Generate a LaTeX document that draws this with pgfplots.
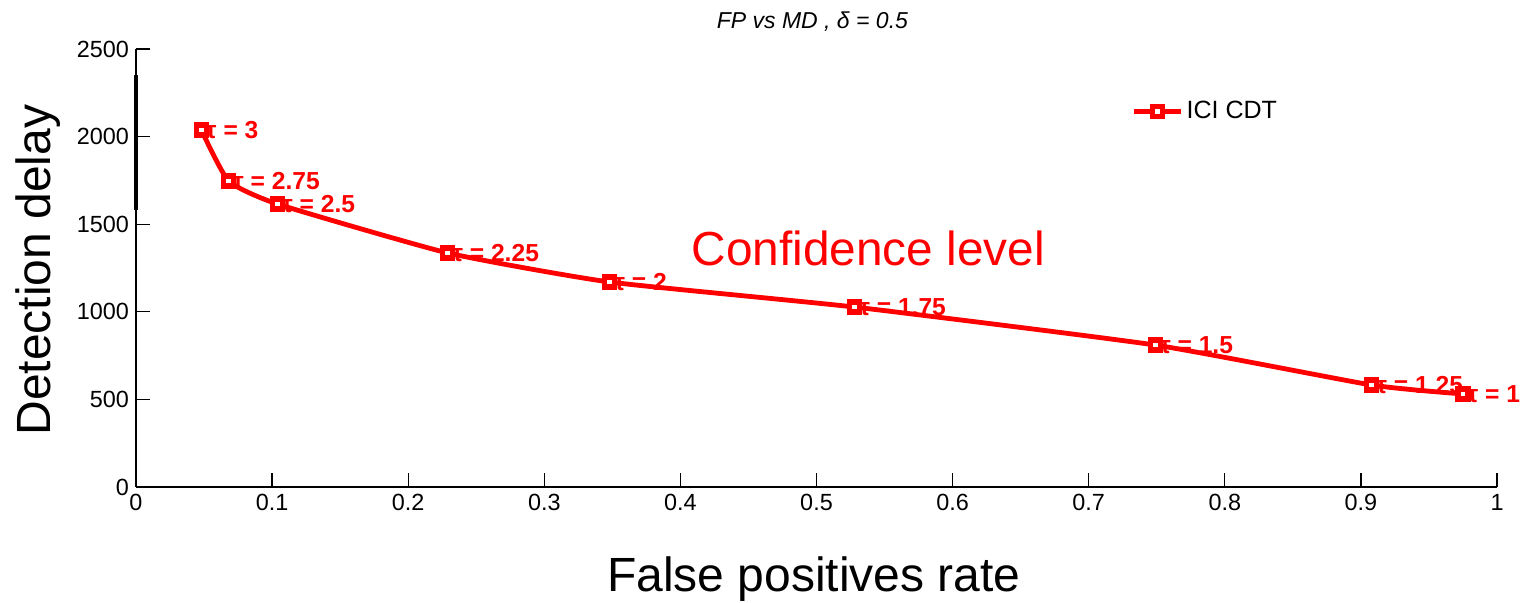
\documentclass[border=0pt]{standalone}
\usepackage{fontspec}
\setmainfont{Liberation Sans}
\usepackage{pgfplots}
\pgfplotsset{compat=1.18}
\definecolor{mred}{RGB}{255,0,0}

\begin{document}
\begin{tikzpicture}
\begin{axis}[
    scale only axis,
    width=680.5pt,
    height=219pt,
    xmin=0, xmax=1,
    ymin=0, ymax=2500,
    xtick={0,0.1,...,1},
    ytick={0,500,...,2500},
    xticklabels={0,0.1,0.2,0.3,0.4,0.5,0.6,0.7,0.8,0.9,1},
    scaled y ticks=false,
    axis x line*=bottom,
    axis y line*=left,
    axis line style={-, line width=0.6pt},
    tick style={black, line width=0.6pt},
    tick align=inside,
    major tick length=7pt,
    tick label style={font=\fontsize{11.7}{13}\selectfont},
    /pgf/number format/assume math mode=true,
    /pgf/number format/1000 sep={},
    xlabel={False positives rate},
    ylabel={Detection delay},
    xlabel style={font=\fontsize{24}{28}\selectfont, at={(axis description cs:0.498,-0.21)}, anchor=center},
    ylabel style={font=\fontsize{24}{28}\selectfont, at={(axis description cs:-0.072,0.495)}, anchor=center, rotate=0},
    title={\itshape FP vs MD , δ = 0.5},
    title style={font=\fontsize{11.5}{13}\selectfont, at={(axis description cs:0.497,1.035)}, anchor=center},
    legend style={draw=none, fill=none, at={(axis description cs:0.73,0.858)}, anchor=west,
                  font=\fontsize{12.5}{14}\selectfont, inner sep=1pt},
    legend cell align=left,
    clip=false,
]
% point labels (drawn first so the markers cover the start of each label)
\addplot[draw=none, forget plot,
    nodes near coords,
    point meta=explicit symbolic,
    every node near coord/.append style={anchor=west, xshift=2pt, yshift=0pt,
        font=\bfseries\fontsize{12.3}{14}\selectfont, text=mred, inner sep=0pt}]
coordinates {
    (0.048,2038) [τ = 3]
    (0.068,1747) [τ = 2.75]
    (0.104,1615) [τ = 2.5]
    (0.229,1336) [τ = 2.25]
    (0.348,1170) [τ = 2]
    (0.528,1027) [τ = 1.75]
    (0.749,810) [τ = 1.5]
    (0.908,582) [τ = 1.25]
    (0.975,531) [τ = 1]
};
\addplot[mred, line width=2.4pt, smooth, tension=0.3, mark=square*,
    mark size=2.5pt, mark options={solid, fill=white, line width=2.6pt},
    legend image code/.code={\draw[mark repeat=2,mark phase=2] plot coordinates {(0pt,0pt) (11.5pt,0pt) (23pt,0pt)};}]
coordinates {
    (0.048,2038) (0.068,1747) (0.104,1615) (0.229,1336) (0.348,1170)
    (0.528,1027) (0.749,810) (0.908,582) (0.975,531)
};
\addlegendentry{ICI CDT}
\node[text=mred, font=\fontsize{23.9}{28}\selectfont] at (axis cs:0.538,1364) {Confidence level};
\draw[black, line width=2pt] (axis cs:0,1581) -- (axis cs:0,2352);
\end{axis}
\pgfresetboundingbox
\path (-68pt,-58pt) rectangle (692.5pt,243.5pt);
\end{tikzpicture}
\end{document}
